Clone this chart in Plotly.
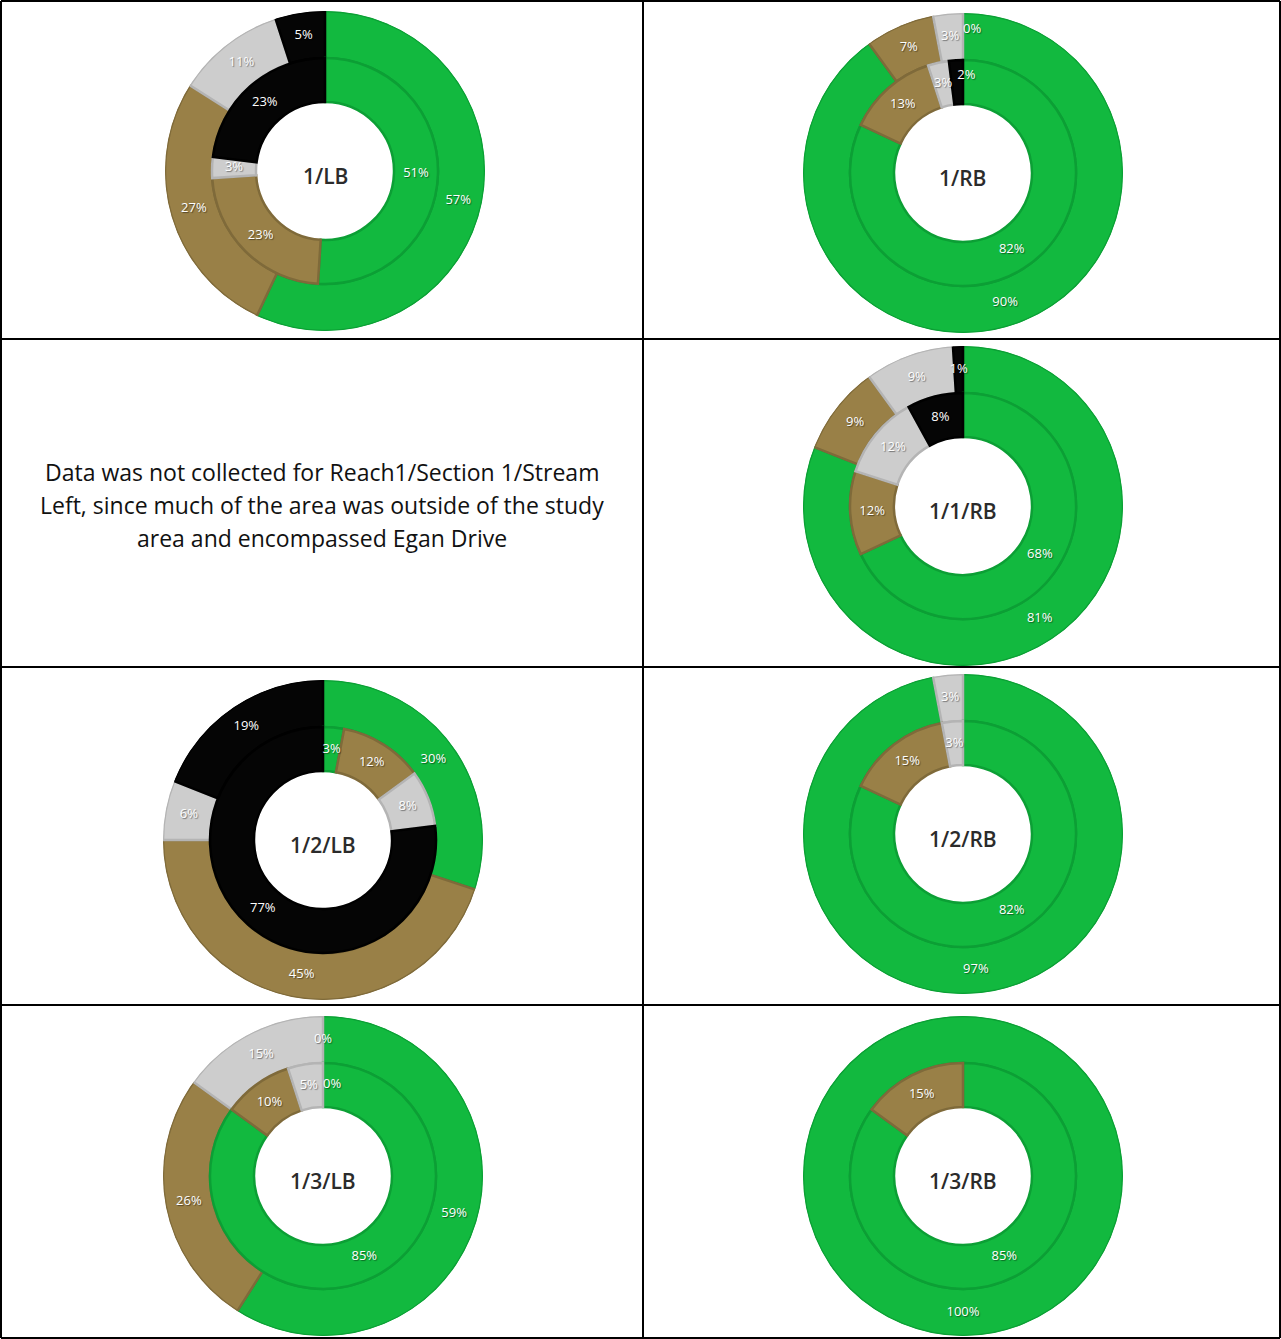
import plotly.graph_objects as go

# ---- data -------------------------------------------------------------
categories = ["Green", "Brown", "Grey", "Black"]

site_names = ["1/LB", "1/RB", "1/1/RB", "1/2/LB", "1/2/RB", "1/3/LB", "1/3/RB"]

outer_values = [
    [57, 27, 11, 5],
    [90, 7, 3, 0],
    [81, 9, 9, 1],
    [30, 45, 6, 19],
    [97, 0, 3, 0],
    [59, 26, 15, 0],
    [100, 0, 0, 0],
]
inner_values = [
    [51, 23, 3, 23],
    [82, 13, 3, 2],
    [68, 12, 12, 8],
    [3, 12, 8, 77],
    [82, 15, 3, 0],
    [85, 10, 5, 0],
    [85, 15, 0, 0],
]
# zero-value slices that still carry a data label
zero_labelled = {("1/RB", "outer"), ("1/3/LB", "outer"), ("1/3/LB", "inner")}

note_lines = [
    "Data was not collected for Reach1/Section 1/Stream",
    "Left, since much of the area was outside of the study",
    "area and encompassed Egan Drive",
]

# ---- layout / styling ---------------------------------------------------
W, H = 1281, 1339
fill_colors = ["#12B93F", "#998047", "#CDCDCD", "#050505"]
edge_colors = ["#0C9F35", "#7F6A3A", "#B4B4B4", "#000000"]

col_edges = [1, 643, 1280]
row_edges = [1, 339, 667, 1005, 1338]
# donut centres (px from top-left) for each site, in site_names order
site_centers = [(325, 171), (963, 173), (963, 506), (323, 840),
                (963, 834), (323, 1176), (963, 1176)]
note_center = (322, 505)
NOTE_LINE_GAP = 33

# radii in px: outer ring spans R_MID..R_OUTER, inner ring R_HOLE..R_MID
R_OUTER, R_MID, R_HOLE = 160, 113, 69
DEG_PER_PCT = 360 / 100

# crowded labels on thin slices get nudged off the slice centre
label_nudge = {
    ("1/RB", "outer", "Black"): "top right",
    ("1/RB", "inner", "Black"): "top right",
    ("1/3/LB", "inner", "Black"): "middle right",
}

label_font = dict(family="Open Sans", size=13, color="white",
                  shadow="1px 1px 1px rgba(0,0,0,0.45)")


def domain(cx, cy, r):
    return dict(x=[(cx - r) / W, (cx + r) / W],
                y=[1 - (cy + r) / H, 1 - (cy - r) / H])


def ring_traces(name, ring, vals, r0, r1, subplot):
    """Annular slices (barpolar) plus their percentage labels."""
    starts, acc = [], 0
    for v in vals:
        starts.append(acc)
        acc += v
    mids = [(s + v / 2) * DEG_PER_PCT for s, v in zip(starts, vals)]
    widths = [v * DEG_PER_PCT for v in vals]
    texts = [f"{v}%" if (v > 0 or (name, ring) in zero_labelled) else ""
             for v in vals]
    positions = [label_nudge.get((name, ring, c), "middle center")
                 for c in categories]
    bars = go.Barpolar(
        theta=mids, width=widths, base=[r0] * len(vals), r=[r1 - r0] * len(vals),
        marker=dict(color=fill_colors,
                    line=dict(color=edge_colors,
                              width=[2.5 if v > 0 else 0 for v in vals])),
        customdata=categories, hovertemplate="%{customdata}<extra></extra>",
        subplot=subplot, showlegend=False,
    )
    labels = go.Scatterpolar(
        theta=mids, r=[(r0 + r1) / 2] * len(vals), text=texts, mode="text",
        textposition=positions, textfont=label_font,
        hoverinfo="skip", subplot=subplot, showlegend=False,
    )
    return [bars, labels]


fig = go.Figure()
polar_layouts = {}
annotations = []
for k, (name, (cx, cy), ov, iv) in enumerate(
        zip(site_names, site_centers, outer_values, inner_values), start=1):
    subplot = "polar" if k == 1 else f"polar{k}"
    polar_layouts[subplot] = dict(
        domain=domain(cx, cy, R_OUTER), bgcolor="rgba(0,0,0,0)", bargap=0,
        radialaxis=dict(range=[0, R_OUTER], visible=False),
        angularaxis=dict(rotation=90, direction="clockwise", visible=False),
    )
    for tr in ring_traces(name, "outer", ov, R_MID, R_OUTER, subplot):
        fig.add_trace(tr)
    for tr in ring_traces(name, "inner", iv, R_HOLE, R_MID, subplot):
        fig.add_trace(tr)
    annotations.append(dict(
        text=name, xref="paper", yref="paper", x=cx / W, y=1 - (cy + 5) / H,
        xanchor="center", yanchor="middle", showarrow=False,
        font=dict(family="Open Sans", size=21, color="#2b2b2b", weight=600)))

# table grid
shapes = []
for x in col_edges:
    shapes.append(dict(type="line", xref="paper", yref="paper",
                       x0=x / W, x1=x / W, y0=1 - row_edges[0] / H, y1=1 - row_edges[-1] / H,
                       line=dict(color="black", width=2)))
for y in row_edges:
    shapes.append(dict(type="line", xref="paper", yref="paper",
                       x0=col_edges[0] / W, x1=col_edges[-1] / W, y0=1 - y / H, y1=1 - y / H,
                       line=dict(color="black", width=2)))

# note in the empty cell
nx, ny = note_center
for k, line in enumerate(note_lines):
    annotations.append(dict(
        text=line, xref="paper", yref="paper", x=nx / W,
        y=1 - (ny + NOTE_LINE_GAP * (k - 1)) / H, xanchor="center", yanchor="middle",
        showarrow=False, font=dict(family="Open Sans", size=23, color="#111111")))

fig.update_layout(
    width=W, height=H, margin=dict(l=0, r=0, t=0, b=0),
    paper_bgcolor="white", plot_bgcolor="white",
    shapes=shapes, annotations=annotations,
    **polar_layouts,
)

fig.write_html("out.html")
